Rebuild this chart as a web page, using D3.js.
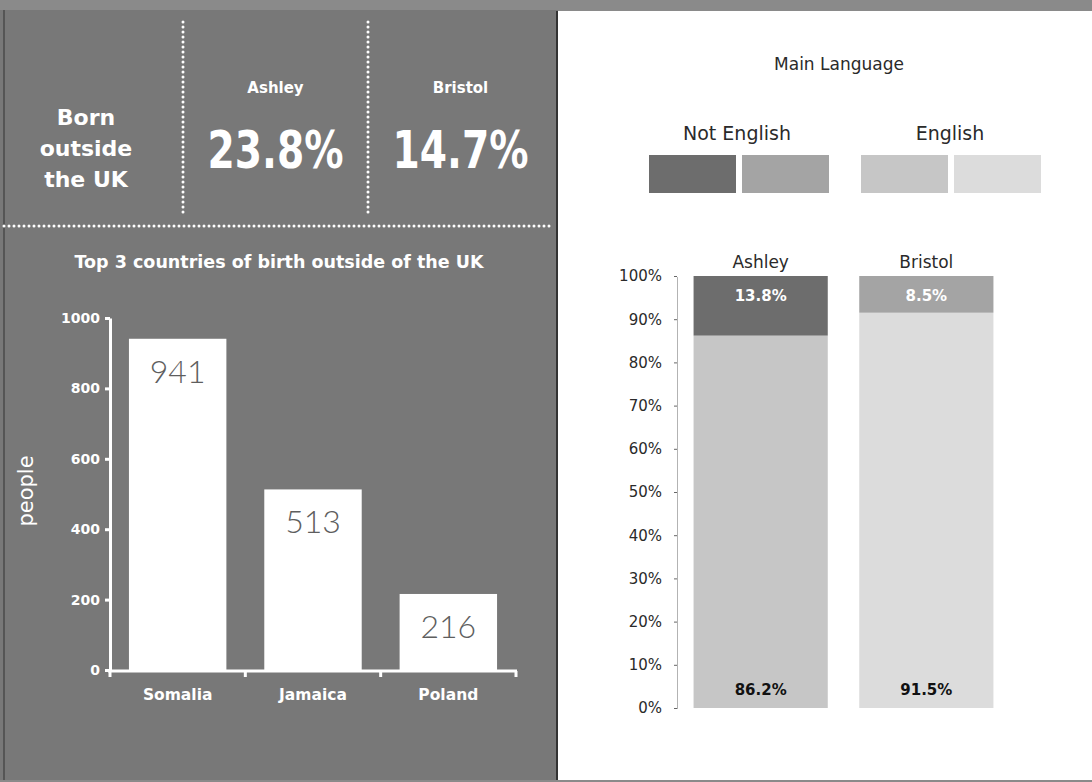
<!DOCTYPE html>
<html>
<head>
<meta charset="utf-8">
<script src="https://cdn.jsdelivr.net/npm/d3@7"></script>
<style>
  body { margin: 0; background: #7d7d7d; }
  svg { display: block; font-family: "DejaVu Sans", sans-serif; }
</style>
</head>
<body>
<svg id="chart"></svg>
<script>
// data
var areas = ["Ashley", "Bristol"];
var bornOutside = [23.8, 14.7];
var countries = ["Somalia", "Jamaica", "Poland"];
var people = [941, 513, 216];
var peopleTicks = [0, 200, 400, 600, 800, 1000];
var notEnglish = [13.8, 8.5];
var english = [86.2, 91.5];
var pctTicks = [0, 10, 20, 30, 40, 50, 60, 70, 80, 90, 100];

var width = 1092, height = 782;
var svg = d3.select("#chart").attr("width", width).attr("height", height);

var panelGray = "#787878";
svg.append("rect").attr("width", width).attr("height", height).attr("fill", "#8a8a8a");
svg.append("rect").attr("x", 0).attr("y", 10).attr("width", 558).attr("height", 770).attr("fill", panelGray);
svg.append("rect").attr("x", 3).attr("y", 10).attr("width", 2).attr("height", 770).attr("fill", "#555");
svg.append("rect").attr("x", 558).attr("y", 11).attr("width", 534).attr("height", 769).attr("fill", "#fff");
svg.append("rect").attr("x", 556).attr("y", 11).attr("width", 2).attr("height", 769).attr("fill", "#333");

// ---- top left: born outside the UK ----
var header = svg.append("g");
["Born", "outside", "the UK"].forEach(function(t, i) {
    header.append("text").attr("x", 86).attr("y", 125 + i * 31)
        .attr("text-anchor", "middle").attr("fill", "#fff")
        .attr("font-size", 22).attr("font-weight", "bold").text(t);
});

var statX = d3.scaleBand().domain(areas).range([183, 553]);
areas.forEach(function(a, i) {
    var cx = statX(a) + statX.bandwidth() / 2;
    header.append("text").attr("x", cx).attr("y", 93)
        .attr("text-anchor", "middle").attr("fill", "#fff")
        .attr("font-size", 15).attr("font-weight", "bold").text(a);
    header.append("text").attr("x", cx - 68).attr("y", 168)
        .attr("fill", "#fff")
        .attr("font-size", 52).attr("font-weight", "bold")
        .attr("textLength", 136).attr("lengthAdjust", "spacingAndGlyphs")
        .text(bornOutside[i].toFixed(1) + "%");
});

// dotted separators
[183, 368].forEach(function(x) {
    header.append("line").attr("x1", x).attr("x2", x).attr("y1", 22).attr("y2", 216)
        .attr("stroke", "#fff").attr("stroke-width", 3)
        .attr("stroke-dasharray", "0 5").attr("stroke-linecap", "round");
});
header.append("line").attr("x1", 4).attr("x2", 550).attr("y1", 226).attr("y2", 226)
    .attr("stroke", "#fff").attr("stroke-width", 3)
    .attr("stroke-dasharray", "0 5").attr("stroke-linecap", "round");

// ---- bar chart ----
svg.append("text").attr("x", 279).attr("y", 268)
    .attr("text-anchor", "middle").attr("fill", "#fff")
    .attr("font-size", 17.5).attr("font-weight", "bold")
    .text("Top 3 countries of birth outside of the UK");

var x = d3.scaleBand().domain(countries).range([110, 516]).paddingInner(0.28).paddingOuter(0.14);
var y = d3.scaleLinear().domain([0, 1000]).range([670, 318]);

var bars = svg.append("g");
bars.selectAll("rect").data(people).enter().append("rect")
    .attr("x", function(d, i) { return x(countries[i]); })
    .attr("y", function(d) { return y(d); })
    .attr("width", x.bandwidth())
    .attr("height", function(d) { return y(0) - y(d); })
    .attr("fill", "#fff");
bars.selectAll("text").data(people).enter().append("text")
    .attr("x", function(d, i) { return x(countries[i]) + x.bandwidth() / 2; })
    .attr("y", function(d) { return y(d) + 44; })
    .attr("text-anchor", "middle").attr("fill", "#5e5e5e")
    .attr("font-size", 32).attr("font-weight", 300)
    .attr("font-family", "Lato, 'DejaVu Sans', sans-serif")
    .text(function(d) { return d; });

var yAxis = svg.append("g").attr("transform", "translate(110,0)")
    .call(d3.axisLeft(y).tickValues(peopleTicks).tickSize(5).tickPadding(5).tickSizeOuter(0)
        .tickFormat(d3.format("d")));
yAxis.select(".domain").attr("stroke", "#fff").attr("stroke-width", 3);
yAxis.selectAll(".tick line").attr("stroke", "#fff").attr("stroke-width", 3);
yAxis.selectAll(".tick text").attr("fill", "#fff").attr("font-size", 14)
    .attr("font-weight", "bold").attr("font-family", "'DejaVu Sans', sans-serif");

var bounds = [110].concat(countries.map(function(c) { return x(c) + x.bandwidth() + x.step() * x.paddingInner() / 2; }));
bounds[3] = 516;
var xAxis = svg.append("g");
xAxis.append("line").attr("x1", 108).attr("x2", 517).attr("y1", 671).attr("y2", 671)
    .attr("stroke", "#fff").attr("stroke-width", 3);
xAxis.selectAll("line.tk").data(bounds).enter().append("line").attr("class", "tk")
    .attr("x1", function(d) { return d; }).attr("x2", function(d) { return d; })
    .attr("y1", 671).attr("y2", 677).attr("stroke", "#fff").attr("stroke-width", 3);
xAxis.selectAll("text").data(countries).enter().append("text")
    .attr("x", function(d) { return x(d) + x.bandwidth() / 2; })
    .attr("y", 700).attr("text-anchor", "middle").attr("fill", "#fff")
    .attr("font-size", 15.5).attr("font-weight", "bold").text(function(d) { return d; });

svg.append("text").attr("transform", "translate(33,491) rotate(-90)")
    .attr("text-anchor", "middle").attr("fill", "#fff").attr("font-size", 21)
    .text("people");

// ---- right: main language ----
var right = svg.append("g");
var dark = "#2a2a2a";
right.append("text").attr("x", 839).attr("y", 70).attr("text-anchor", "middle")
    .attr("fill", dark).attr("font-size", 17).text("Main Language");

var notColors = ["#6d6d6d", "#a4a4a4"];
var engColors = ["#c6c6c6", "#dcdcdc"];
var legend = [
    {label: "Not English", cx: 737, colors: notColors, x0: 649},
    {label: "English", cx: 950, colors: engColors, x0: 861}
];
legend.forEach(function(g) {
    right.append("text").attr("x", g.cx).attr("y", 140).attr("text-anchor", "middle")
        .attr("fill", dark).attr("font-size", 19).text(g.label);
    g.colors.forEach(function(c, i) {
        right.append("rect").attr("x", g.x0 + i * 93).attr("y", 155)
            .attr("width", 87).attr("height", 38).attr("fill", c);
    });
});

var bx = d3.scaleBand().domain(areas).range([677, 1010]).paddingInner(0.19).paddingOuter(0.1);
var py = d3.scaleLinear().domain([0, 100]).range([708, 276]);

var stack = right.append("g");
areas.forEach(function(a, i) {
    var bxl = bx(a), bw = bx.bandwidth();
    stack.append("rect").attr("x", bxl).attr("y", py(english[i]))
        .attr("width", bw).attr("height", py(0) - py(english[i])).attr("fill", engColors[i]);
    stack.append("rect").attr("x", bxl).attr("y", py(100))
        .attr("width", bw).attr("height", py(english[i]) - py(100)).attr("fill", notColors[i]);
    stack.append("text").attr("x", bxl + bw / 2).attr("y", 268).attr("text-anchor", "middle")
        .attr("fill", dark).attr("font-size", 17).text(a);
    stack.append("text").attr("x", bxl + bw / 2).attr("y", py(100) + 25).attr("text-anchor", "middle")
        .attr("fill", "#fff").attr("font-size", 15).attr("font-weight", "bold")
        .text(notEnglish[i].toFixed(1) + "%");
    stack.append("text").attr("x", bxl + bw / 2).attr("y", py(0) - 13).attr("text-anchor", "middle")
        .attr("fill", "#111").attr("font-size", 15).attr("font-weight", "bold")
        .text(english[i].toFixed(1) + "%");
});

var pAxis = right.append("g").attr("transform", "translate(677,0)")
    .call(d3.axisLeft(py).tickValues(pctTicks).tickSize(3).tickPadding(12).tickSizeOuter(0)
        .tickFormat(function(d) { return d + "%"; }));
pAxis.select(".domain").attr("stroke", "#666").attr("stroke-dasharray", "1 1");
pAxis.selectAll(".tick line").attr("stroke", "#666");
pAxis.selectAll(".tick text").attr("fill", dark).attr("font-size", 15)
    .attr("font-family", "'DejaVu Sans', sans-serif");
</script>
</body>
</html>
